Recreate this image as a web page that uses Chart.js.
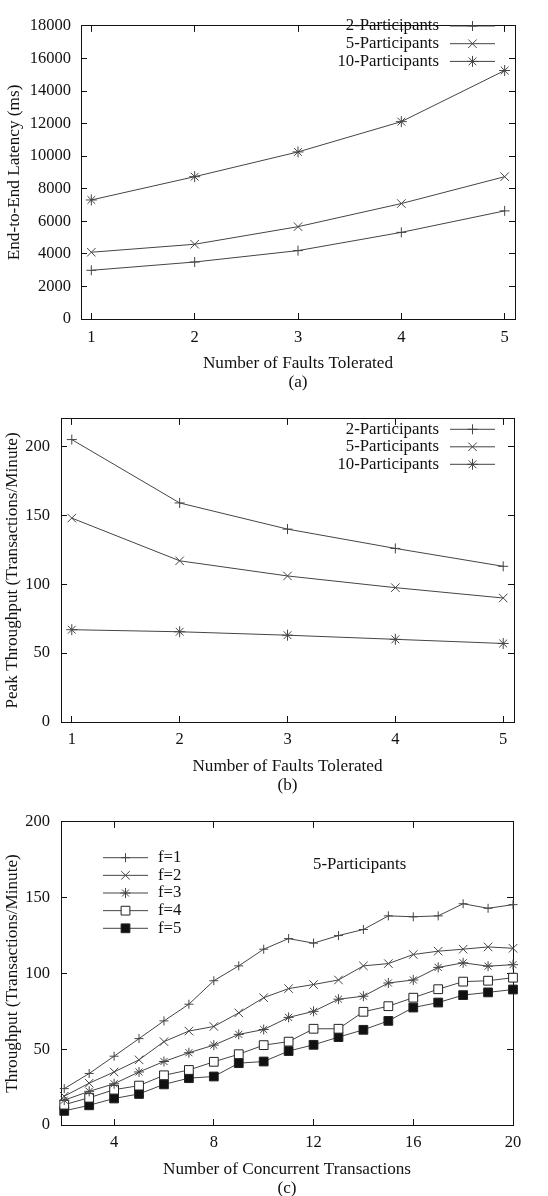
<!DOCTYPE html>
<html>
<head>
<meta charset="utf-8">
<script src="https://cdn.jsdelivr.net/npm/chart.js@4.4.1/dist/chart.umd.min.js"></script>
<style>
  html, body { margin: 0; padding: 0; background: #fff; }
  body { width: 548px; height: 1196px; position: relative; overflow: hidden; }
  canvas { position: absolute; left: 0; }
</style>
</head>
<body>
<canvas id="chartA" width="548" height="392" style="top:0px"></canvas>
<canvas id="chartB" width="548" height="403" style="top:392px"></canvas>
<canvas id="chartC" width="548" height="401" style="top:795px"></canvas>
<script>
// (a) end-to-end latency, ms
const faults = [1, 2, 3, 4, 5];
const latency2 = [2990, 3500, 4200, 5320, 6640];
const latency5 = [4100, 4590, 5670, 7090, 8740];
const latency10 = [7310, 8740, 10260, 12120, 15260];

// (b) peak throughput, transactions/minute
const peak2 = [205, 159, 140, 126, 113];
const peak5 = [148, 117, 106, 97.5, 90];
const peak10 = [67, 65.5, 63, 60, 57];

// (c) throughput vs concurrent transactions, 5 participants
const concurrent = [2, 3, 4, 5, 6, 7, 8, 9, 10, 11, 12, 13, 14, 15, 16, 17, 18, 19, 20];
const tputF1 = [24, 34, 45.4, 57, 68.7, 79.7, 95.2, 105, 116, 123, 120, 125, 129, 138, 137.4, 138, 146, 143, 145.4];
const tputF2 = [19, 27.6, 35, 43, 55, 62, 65, 74, 84, 90, 92.7, 95.7, 105, 106.5, 112.5, 114.7, 116, 117.5, 116.6];
const tputF3 = [16.4, 22.2, 27.2, 35, 41.9, 47.7, 52.7, 59.8, 63, 71, 75, 83, 85, 93.7, 95.7, 104, 107, 104.8, 105.8];
const tputF4 = [13.4, 18, 23.3, 26, 32.8, 36.3, 41.7, 46.7, 52.7, 55, 63.5, 63.5, 74.7, 78.4, 84, 89.6, 94.6, 95.2, 97.2];
const tputF5 = [9.3, 13, 17.5, 20.5, 26.8, 30.9, 32, 40.8, 41.9, 48.8, 52.9, 58, 62.8, 68.7, 77.5, 80.8, 85.7, 87.5, 89.4];

const INK = '#111';
const LINE = '#444';
const FONT = "'Liberation Serif', 'Times New Roman', serif";
const SIZE = 16.5;
const TITLE_SIZE = 17.2;
const KEY_SIZE = 16.8;

Chart.defaults.font.family = FONT;
Chart.defaults.font.size = SIZE;
Chart.defaults.color = INK;

function series(label, xs, ys, pointStyle, radius, fill) {
  return {
    label,
    data: xs.map((x, i) => ({ x, y: ys[i] })),
    borderColor: LINE,
    borderWidth: 1,
    pointStyle,
    pointRadius: radius,
    pointBorderColor: pointStyle === 'rect' ? '#222' : LINE,
    pointBackgroundColor: fill || LINE,
    pointBorderWidth: 1,
    tension: 0,
    clip: 10
  };
}

// gnuplot-like key: text, then a short line with the marker in its middle
const gpLegend = {
  id: 'gpLegend',
  afterDatasetsDraw(chart, args, opts) {
    const ctx = chart.ctx;
    ctx.save();
    ctx.font = KEY_SIZE + 'px ' + FONT;
    ctx.textBaseline = 'middle';
    chart.data.datasets.forEach((ds, i) => {
      const y = opts.y + i * opts.dy;
      ctx.fillStyle = INK;
      ctx.textAlign = opts.textAlign;
      ctx.fillText(ds.label, opts.textX, y);
      ctx.strokeStyle = ds.borderColor;
      ctx.lineWidth = 1;
      ctx.beginPath();
      ctx.moveTo(opts.x0, y);
      ctx.lineTo(opts.x1, y);
      ctx.stroke();
      ctx.fillStyle = ds.pointBackgroundColor;
      ctx.strokeStyle = ds.pointBorderColor;
      Chart.helpers.drawPoint(ctx, {
        pointStyle: ds.pointStyle, radius: ds.pointRadius, borderWidth: 1, rotation: 0
      }, (opts.x0 + opts.x1) / 2, y);
    });
    if (opts.note) {
      ctx.fillStyle = INK;
      ctx.textAlign = 'left';
      ctx.fillText(opts.note.text, opts.note.x, opts.note.y);
    }
    ctx.restore();
  }
};

function axes(o) {
  const grid = { drawOnChartArea: false, drawTicks: true, tickLength: -6, color: INK, lineWidth: 1 };
  const border = { display: true, color: INK, width: 1 };
  const fmt = v => String(v);
  const titleFont = { size: TITLE_SIZE, lineHeight: 1.1 };
  return {
    x: {
      type: 'linear', position: 'bottom', min: o.xMin, max: o.xMax, grid, border,
      ticks: { stepSize: o.xStep, includeBounds: false, padding: o.xPad, maxRotation: 0, autoSkip: false, color: INK, callback: fmt },
      title: { display: true, text: [o.xTitle, o.caption], color: INK, font: titleFont, padding: { top: 0, bottom: o.titlePad } },
      afterFit: s => { s.height = o.xHeight; }
    },
    x2: {
      type: 'linear', position: 'top', min: o.xMin, max: o.xMax, grid, border,
      ticks: { stepSize: o.xStep, includeBounds: false, display: false },
      afterFit: s => { s.height = 0; }
    },
    y: {
      type: 'linear', position: 'left', min: 0, max: o.yMax, grid, border,
      ticks: { stepSize: o.yStep, includeBounds: false, padding: o.yPad, color: INK, callback: fmt },
      title: { display: true, text: o.yTitle, color: INK, font: titleFont, padding: { top: o.yTitlePad, bottom: 0 } },
      afterFit: s => { s.width = o.yWidth; }
    },
    y2: {
      type: 'linear', position: 'right', min: 0, max: o.yMax, grid, border,
      ticks: { stepSize: o.yStep, includeBounds: false, display: false },
      afterFit: s => { s.width = 0; }
    }
  };
}

function makeChart(id, datasets, ax, padding, legend) {
  return new Chart(document.getElementById(id), {
    type: 'line',
    data: { datasets },
    options: {
      responsive: false,
      animation: false,
      devicePixelRatio: 1,
      layout: { padding },
      scales: axes(ax),
      plugins: { legend: { display: false }, tooltip: { enabled: false }, gpLegend: legend }
    },
    plugins: [gpLegend]
  });
}

makeChart('chartA', [
  series('2-Participants', faults, latency2, 'cross', 5),
  series('5-Participants', faults, latency5, 'crossRot', 6),
  series('10-Participants', faults, latency10, 'star', 5.5)
], {
  xMin: 0.9, xMax: 5.1, xStep: 1, xPad: 15, xHeight: 73,
  xTitle: 'Number of Faults Tolerated', caption: '(a)', titlePad: 0,
  yMax: 18000, yStep: 2000, yPad: 16, yWidth: 81,
  yTitle: 'End-to-End Latency (ms)', yTitlePad: 5
}, { top: 12, right: 33, left: 0, bottom: 0 },
{ y: 26, dy: 17.7, textX: 439, textAlign: 'right', x0: 450, x1: 495 });

makeChart('chartB', [
  series('2-Participants', faults, peak2, 'cross', 5),
  series('5-Participants', faults, peak5, 'crossRot', 6),
  series('10-Participants', faults, peak10, 'star', 5.5)
], {
  xMin: 0.9, xMax: 5.1, xStep: 1, xPad: 14, xHeight: 73,
  xTitle: 'Number of Faults Tolerated', caption: '(b)', titlePad: 0,
  yMax: 220, yStep: 50, yPad: 17, yWidth: 61,
  yTitle: 'Peak Throughput (Transactions/Minute)', yTitlePad: 3.5
}, { top: 22, right: 34, left: 0, bottom: 0 },
{ y: 37.3, dy: 17.5, textX: 439, textAlign: 'right', x0: 450, x1: 495 });

makeChart('chartC', [
  series('f=1', concurrent, tputF1, 'cross', 4.5),
  series('f=2', concurrent, tputF2, 'crossRot', 6),
  series('f=3', concurrent, tputF3, 'star', 5),
  series('f=4', concurrent, tputF4, 'rect', 6.2, '#fff'),
  series('f=5', concurrent, tputF5, 'rect', 6.2, '#111')
], {
  xMin: 1.87, xMax: 20, xStep: 4, xPad: 14, xHeight: 71,
  xTitle: 'Number of Concurrent Transactions', caption: '(c)', titlePad: -2,
  yMax: 200, yStep: 50, yPad: 17, yWidth: 61,
  yTitle: 'Throughput (Transactions/Minute)', yTitlePad: 3.5
}, { top: 22, right: 35, left: 0, bottom: 0 },
{ y: 62.7, dy: 17.65, textX: 158, textAlign: 'left', x0: 103, x1: 148,
  note: { text: '5-Participants', x: 313, y: 70 } });
</script>
</body>
</html>
